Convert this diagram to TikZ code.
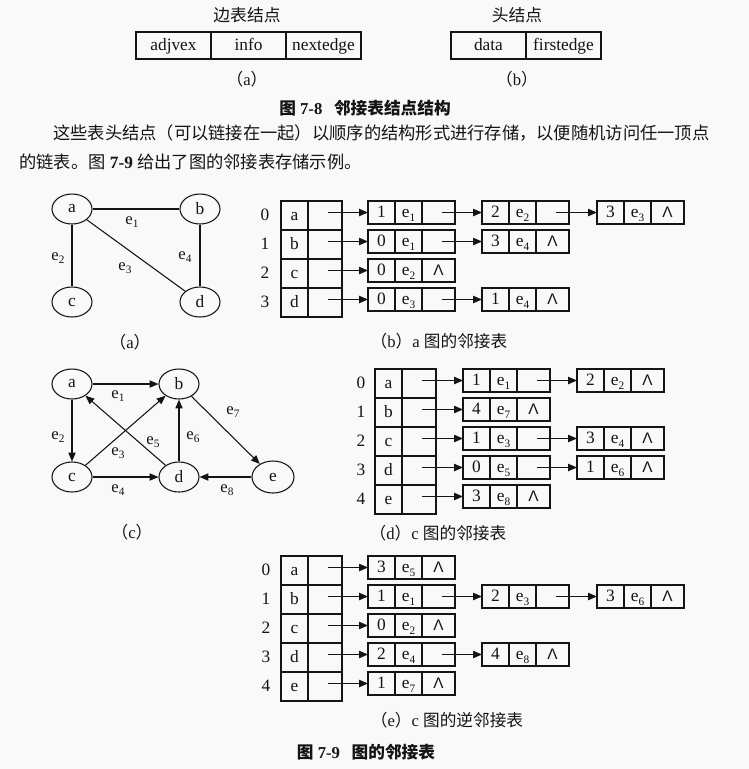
\documentclass[tikz,border=0pt]{standalone}
\usepackage{fontspec}
\setmainfont{Liberation Serif}
\newfontfamily\cjk{Noto Sans CJK SC}
\newfontfamily\nilfont{Liberation Sans}
\usetikzlibrary{arrows.meta,shapes.geometric}

\definecolor{paper}{RGB}{249,249,249}
\definecolor{ink}{RGB}{20,20,20}

% edge name with a lowered index
\newcommand\esub[1]{e\raisebox{-0.22em}{\fontsize{8.5}{8.5}\selectfont #1}}
% null pointer mark
\newcommand\nil{{\nilfont\fontsize{11.5}{11.5}\selectfont Λ}}

\tikzset{
  cell/.style={draw=ink, line width=0.9pt, inner sep=0pt, outer sep=0pt,
    minimum height=23*0.75pt, font=\fontsize{13}{13}\selectfont, text=ink,
    text height=10pt, text depth=2.9pt},
  hcell/.style={cell, minimum height=29*0.75pt},
  fcell/.style={cell, minimum height=27*0.75pt, minimum width=75*0.75pt},
  arr/.style={-{Triangle[length=6.6pt,width=5.4pt]}, line width=0.9pt, draw=ink},
  link/.style={line width=0.8pt, draw=ink},
  vtx/.style={ellipse, draw=ink, line width=0.8pt, minimum width=40*0.75pt,
    minimum height=30*0.75pt, inner sep=0pt, text=ink, font=\fontsize{13}{13}\selectfont},
  elab/.style={font=\fontsize{12.5}{12.5}\selectfont, inner sep=0pt, text=ink},
  idx/.style={font=\fontsize{13}{13}\selectfont, inner sep=0pt, text=ink},
  captxt/.style={font=\fontsize{12.5}{12.5}\selectfont, inner sep=0pt, text=ink},
  para/.style={font=\fontsize{12.95}{12.95}\selectfont, inner sep=0pt, text=ink},
}

% edge list node: name, left x, top y, adjvex, edge number, next
\newcommand\enode[6]{%
  \node[cell, minimum width=27*0.75pt, anchor=north west] (#1v) at (#2,#3) {#4};
  \node[cell, minimum width=27*0.75pt, anchor=west] (#1e) at (#1v.east) {\esub{#5}};
  \node[cell, minimum width=33*0.75pt, anchor=west] (#1p) at (#1e.east) {#6};}

% head array row: name, left x, top y, index x, vertex, index
\newcommand\hrow[6]{%
  \node[hcell, minimum width=27*0.75pt, anchor=north west] (#1d) at (#2,#3) {#5};
  \node[hcell, minimum width=34*0.75pt, anchor=west] (#1f) at (#1d.east) {};
  \node[idx] (#1i) at (#4,#3+14) {#6};}

\begin{document}
\begin{tikzpicture}[x=0.75pt,y=-0.75pt]
\fill[paper] (0,0) rectangle (749,769);
\useasboundingbox (0,0) rectangle (749,769);

% ---- node layouts ----
\node[captxt, font=\fontsize{12.6}{12.6}\selectfont] (tedge) at (247,15) {\cjk 边表结点};
\node[fcell, anchor=north west] (fadj) at (136,32) {adjvex};
\node[fcell, anchor=west] (finfo) at (fadj.east) {info};
\node[fcell, anchor=west] (fnext) at (finfo.east) {nextedge};
\node[captxt] (capfa) at (247,79) {\cjk（\normalfont a\cjk）};

\node[captxt, font=\fontsize{12.6}{12.6}\selectfont] (thead) at (517,15) {\cjk 头结点};
\node[fcell, anchor=north west] (fdata) at (451,32) {data};
\node[fcell, anchor=west] (ffirst) at (fdata.east) {firstedge};
\node[captxt] (capfb) at (517,79) {\cjk（\normalfont b\cjk）};

\node[captxt] (fig78) at (365,108) {\bfseries{\cjk 图} 7-8\hspace{0.7em}{\cjk 邻接表结点结构}};

\node[para, anchor=west] (par1) at (53,133)
  {\cjk 这些表头结点（可以链接在一起）以顺序的结构形式进行存储，以便随机访问任一顶点};
\node[para, anchor=west] (par2) at (19,162)
  {{\cjk 的链表。图} \textbf{7-9} {\cjk 给出了图的邻接表存储示例。}};

% ---- undirected graph ----
\node[vtx] (ga) at (72,209) {a};
\node[vtx] (gb) at (200,209) {b};
\node[vtx] (gc) at (72,302) {c};
\node[vtx] (gd) at (200,302) {d};
\draw[link] (ga) -- (gb);
\draw[link] (ga) -- (gc);
\draw[link] (ga) -- (gd);
\draw[link] (gb) -- (gd);
\node[elab] (ga1) at (132,222) {\esub1};
\node[elab] (ga2) at (58,258) {\esub2};
\node[elab] (ga3) at (125,268) {\esub3};
\node[elab] (ga4) at (185,257) {\esub4};
\node[captxt] (capa) at (130,342) {\cjk（\normalfont a\cjk）};

% ---- adjacency list of the undirected graph ----
\hrow{b0}{281}{201}{265}{a}{0}
\hrow{b1}{281}{230}{265}{b}{1}
\hrow{b2}{281}{259}{265}{c}{2}
\hrow{b3}{281}{288}{265}{d}{3}
\enode{b01}{368}{201}{1}{1}{}
\enode{b02}{482}{201}{2}{2}{}
\enode{b03}{597}{201}{3}{3}{\nil}
\enode{b11}{368}{230}{0}{1}{}
\enode{b12}{482}{230}{3}{4}{\nil}
\enode{b21}{368}{259}{0}{2}{\nil}
\enode{b31}{368}{288}{0}{3}{}
\enode{b32}{482}{288}{1}{4}{\nil}
\draw[arr] ([xshift=2.5pt]b0f.center |- b01v.west) -- (b01v.west);
\draw[arr] ([xshift=2.5pt]b1f.center |- b11v.west) -- (b11v.west);
\draw[arr] ([xshift=2.5pt]b2f.center |- b21v.west) -- (b21v.west);
\draw[arr] ([xshift=2.5pt]b3f.center |- b31v.west) -- (b31v.west);
\draw[arr] ([xshift=2.5pt]b01p.center) -- (b02v.west);
\draw[arr] ([xshift=2.5pt]b02p.center) -- (b03v.west);
\draw[arr] ([xshift=2.5pt]b11p.center) -- (b12v.west);
\draw[arr] ([xshift=2.5pt]b31p.center) -- (b32v.west);
\node[captxt] (capb) at (439,341) {\cjk（\normalfont b\cjk）\normalfont a {\cjk 图的邻接表}};

% ---- directed graph ----
\node[vtx] (ca) at (72,384) {a};
\node[vtx] (cb) at (179,384) {b};
\node[vtx] (cc) at (72,477) {c};
\node[vtx] (cd) at (179,477) {d};
\node[vtx, minimum width=42*0.75pt, minimum height=32*0.75pt] (ce) at (273,477) {e};
\draw[arr, line width=0.8pt] (ca) -- (cb);
\draw[arr, line width=0.8pt] (ca) -- (cc);
\draw[arr, line width=0.8pt] (cc) -- (cb);
\draw[arr, line width=0.8pt] (cd) -- (ca);
\draw[arr, line width=0.8pt] (cd) -- (cb);
\draw[arr, line width=0.8pt] (cb) -- (ce);
\draw[arr, line width=0.8pt] (cc) -- (cd);
\draw[arr, line width=0.8pt] (ce) -- (cd);
\node[elab] (cl1) at (118,396) {\esub1};
\node[elab] (cl2) at (58,437) {\esub2};
\node[elab] (cl3) at (118,453) {\esub3};
\node[elab] (cl4) at (118,490) {\esub4};
\node[elab] (cl5) at (153,442) {\esub5};
\node[elab] (cl6) at (193,437) {\esub6};
\node[elab] (cl7) at (233,412) {\esub7};
\node[elab] (cl8) at (227,490) {\esub8};
\node[captxt] (capc) at (132,532) {\cjk（\normalfont c\cjk）};

% ---- adjacency list of the directed graph ----
\hrow{d0}{375}{369}{361}{a}{0}
\hrow{d1}{375}{398}{361}{b}{1}
\hrow{d2}{375}{427}{361}{c}{2}
\hrow{d3}{375}{456}{361}{d}{3}
\hrow{d4}{375}{485}{361}{e}{4}
\enode{d01}{463}{369}{1}{1}{}
\enode{d02}{577}{369}{2}{2}{\nil}
\enode{d11}{463}{398}{4}{7}{\nil}
\enode{d21}{463}{427}{1}{3}{}
\enode{d22}{577}{427}{3}{4}{\nil}
\enode{d31}{463}{456}{0}{5}{}
\enode{d32}{577}{456}{1}{6}{\nil}
\enode{d41}{463}{485}{3}{8}{\nil}
\draw[arr] ([xshift=2.5pt]d0f.center |- d01v.west) -- (d01v.west);
\draw[arr] ([xshift=2.5pt]d1f.center |- d11v.west) -- (d11v.west);
\draw[arr] ([xshift=2.5pt]d2f.center |- d21v.west) -- (d21v.west);
\draw[arr] ([xshift=2.5pt]d3f.center |- d31v.west) -- (d31v.west);
\draw[arr] ([xshift=2.5pt]d4f.center |- d41v.west) -- (d41v.west);
\draw[arr] ([xshift=2.5pt]d01p.center) -- (d02v.west);
\draw[arr] ([xshift=2.5pt]d21p.center) -- (d22v.west);
\draw[arr] ([xshift=2.5pt]d31p.center) -- (d32v.west);
\node[captxt] (capd) at (438,533) {\cjk（\normalfont d\cjk）\normalfont c {\cjk 图的邻接表}};

% ---- inverse adjacency list ----
\hrow{r0}{281}{556}{266}{a}{0}
\hrow{r1}{281}{585}{266}{b}{1}
\hrow{r2}{281}{614}{266}{c}{2}
\hrow{r3}{281}{643}{266}{d}{3}
\hrow{r4}{281}{672}{266}{e}{4}
\enode{r01}{368}{556}{3}{5}{\nil}
\enode{r11}{368}{585}{1}{1}{}
\enode{r12}{482}{585}{2}{3}{}
\enode{r13}{597}{585}{3}{6}{\nil}
\enode{r21}{368}{614}{0}{2}{\nil}
\enode{r31}{368}{643}{2}{4}{}
\enode{r32}{482}{643}{4}{8}{\nil}
\enode{r41}{368}{672}{1}{7}{\nil}
\draw[arr] ([xshift=2.5pt]r0f.center |- r01v.west) -- (r01v.west);
\draw[arr] ([xshift=2.5pt]r1f.center |- r11v.west) -- (r11v.west);
\draw[arr] ([xshift=2.5pt]r2f.center |- r21v.west) -- (r21v.west);
\draw[arr] ([xshift=2.5pt]r3f.center |- r31v.west) -- (r31v.west);
\draw[arr] ([xshift=2.5pt]r4f.center |- r41v.west) -- (r41v.west);
\draw[arr] ([xshift=2.5pt]r11p.center) -- (r12v.west);
\draw[arr] ([xshift=2.5pt]r12p.center) -- (r13v.west);
\draw[arr] ([xshift=2.5pt]r31p.center) -- (r32v.west);
\node[captxt] (cape) at (447,720) {\cjk（\normalfont e\cjk）\normalfont c {\cjk 图的逆邻接表}};

\node[captxt] (fig79) at (366,752) {\bfseries{\cjk 图} 7-9\hspace{0.7em}{\cjk 图的邻接表}};
\end{tikzpicture}
\end{document}
